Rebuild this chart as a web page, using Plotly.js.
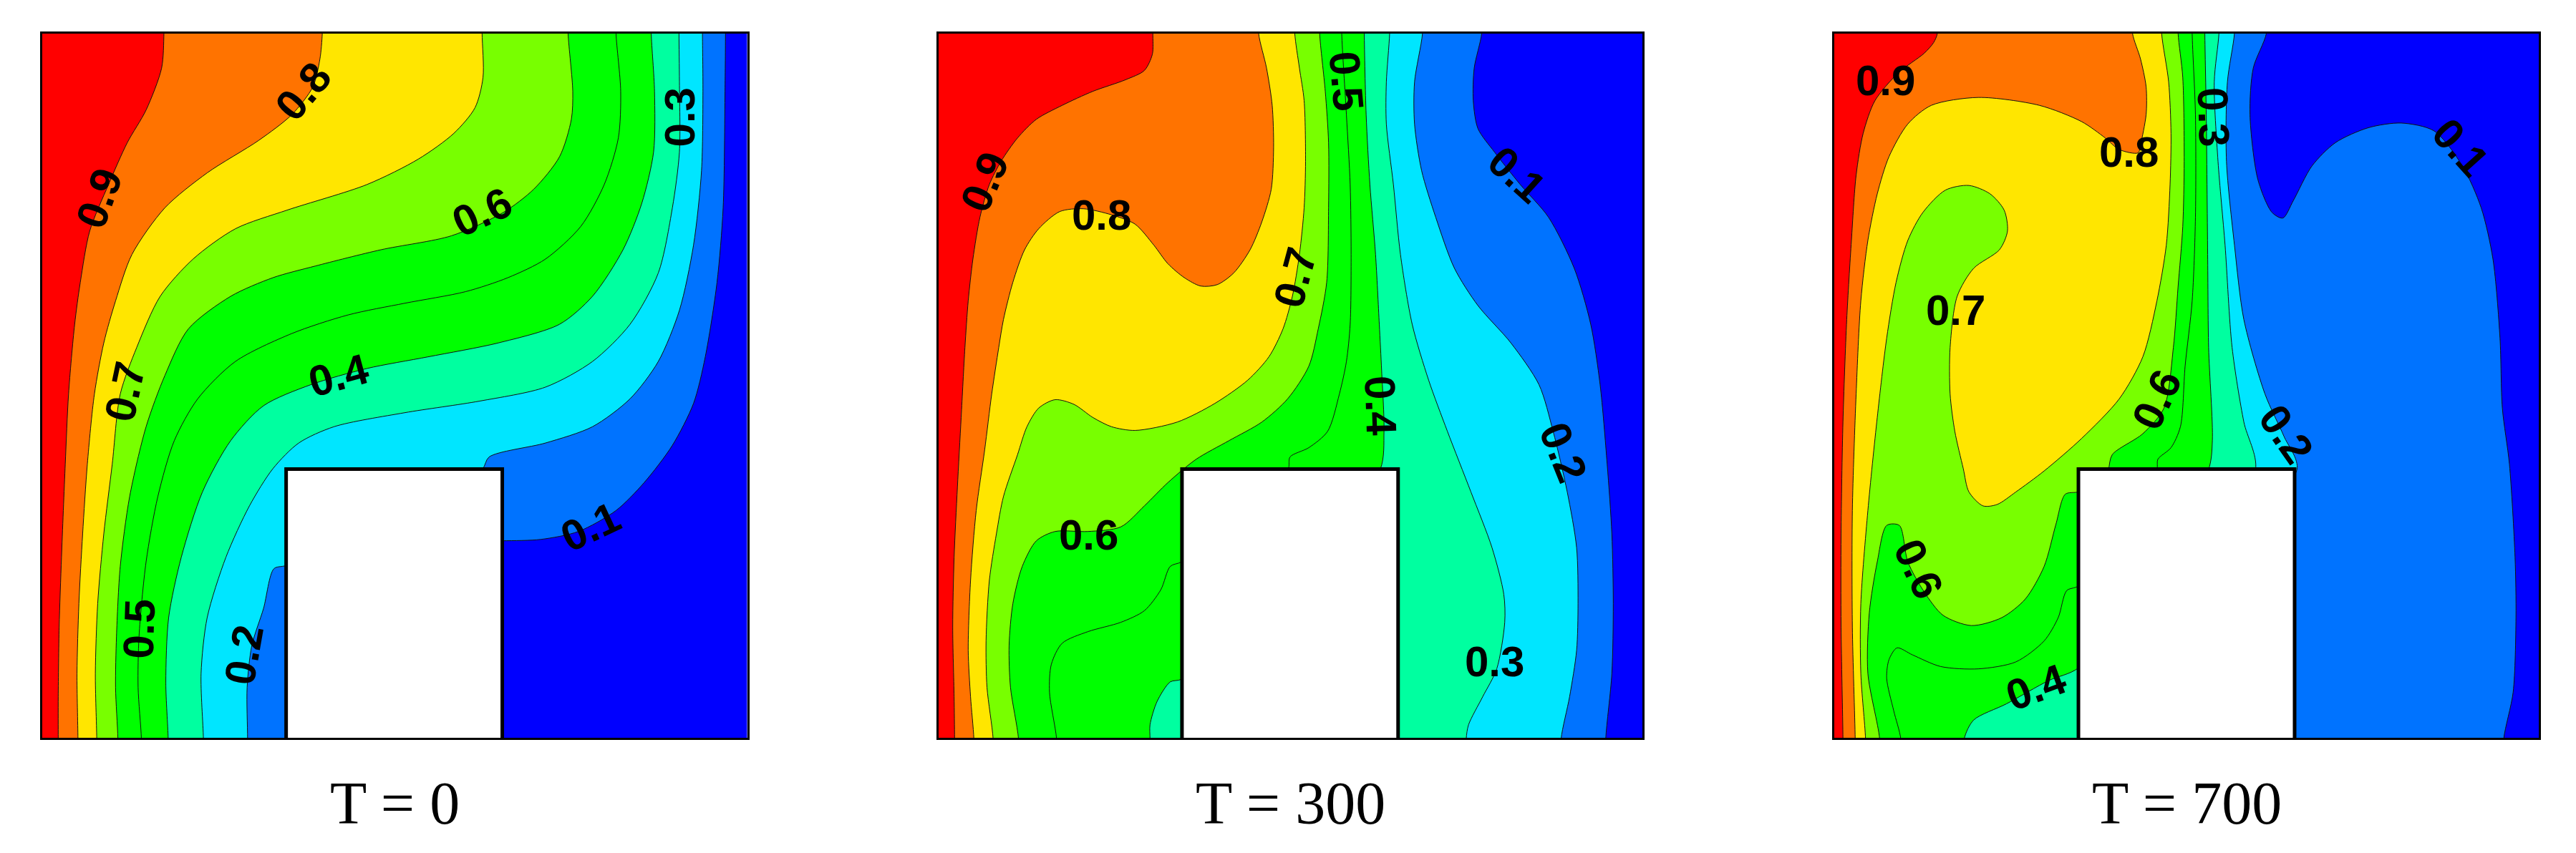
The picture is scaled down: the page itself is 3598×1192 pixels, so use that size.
<!DOCTYPE html>
<html>
<head>
<meta charset="utf-8">
<title>Contours at T = 0, 300, 700</title>
<script src="https://cdn.plot.ly/plotly-3.0.1.min.js"></script>
<style>html,body{margin:0;padding:0;background:#fff}</style>
</head>
<body>
<div id="plot" style="width:3598px;height:1192px"></div>
<script>
// isolines, one x and one y array per level and panel
// (reading grid: y grows downward, the frame spans about 1500 units each way)

const levels = [0.1, 0.2, 0.3, 0.4, 0.5, 0.6, 0.7, 0.8, 0.9];
const levelColors = ['#0073ff', '#00e6ff', '#00ffa0', '#00ff00', '#00ff00', '#78ff00', '#ffe600', '#ff7300', '#ff0000'];
const panelTitles = ['T = 0', 'T = 300', 'T = 700'];

// ------------------ T = 0 ------------------
const a1x = [1483,1482,1478,1465,1440,1415,1370,1310,1250,1170,1090,1008,900];
const a1y = [25,150,400,560,720,820,910,990,1050,1095,1112,1115,1115];
const a2x = [1434,1435,1432,1415,1385,1340,1280,1200,1100,980,965,800,548,522,500,475,465,466];
const a2y = [25,150,320,480,620,730,810,870,905,935,962,1060,1168,1175,1260,1340,1430,1540];
const a3x = [1384,1385,1385,1370,1340,1280,1200,1100,960,800,650,575,520,470,420,380,367,372];
const a3y = [25,130,280,400,540,650,730,785,815,840,870,905,960,1040,1150,1280,1400,1540];
const a4x = [1325,1332,1330,1305,1265,1200,1130,1000,850,720,600,500,430,370,325,298,292,297];
const a4y = [25,150,280,390,490,590,650,690,720,745,780,825,900,1010,1150,1280,1420,1540];
const a5x = [1250,1260,1255,1225,1175,1100,1020,930,800,680,560,440,360,310,275,250,235,233,240];
const a5y = [25,150,250,350,440,510,550,580,605,630,670,730,810,900,1020,1160,1320,1430,1540];
const a6x = [1148,1158,1155,1130,1075,1010,900,750,610,520,430,340,290,250,215,195,187,185,190];
const a6y = [25,150,210,290,360,410,460,490,525,550,590,660,760,870,1020,1170,1320,1430,1540];
const a7x = [965,967,950,905,830,720,550,440,350,280,230,195,178,160,147,142,145];
const a7y = [25,120,185,240,295,350,405,445,510,590,700,800,950,1100,1250,1400,1540];
const a8x = [625,620,605,560,490,380,290,220,185,160,140,125,115,107,103,105];
const a8y = [25,80,140,200,255,325,400,500,600,690,800,950,1100,1250,1400,1540];
const a9x = [288,283,250,210,170,130,110,98,85,78,70,65,63,63];
const a9y = [25,100,190,260,350,450,560,650,800,950,1150,1300,1450,1540];

// ------------------ T = 300 ------------------
const b1x = [1188,1172,1170,1180,1215,1270,1330,1385,1420,1440,1455,1465,1468,1465,1452];
const b1y = [25,100,170,230,280,350,420,530,650,780,950,1100,1250,1400,1540];
const b2x = [1062,1045,1045,1060,1090,1130,1180,1250,1310,1340,1370,1390,1393,1390,1375,1357];
const b2y = [25,130,220,320,420,530,610,690,780,880,1010,1130,1250,1350,1450,1540];
const b3x = [992,985,985,1000,1015,1040,1075,1115,1165,1210,1235,1237,1220,1190,1160,1155];
const b3y = [25,130,220,350,500,650,770,880,1010,1130,1230,1290,1390,1450,1510,1540];
const b4x = [938,942,950,962,970,975,980,972,800,550,525,497,482,482];
const b4y = [25,200,350,500,650,750,880,962,1200,1412,1418,1460,1510,1540];
const b5x = [890,900,908,910,908,900,885,860,820,780,776,700,550,525,505,470,420,350,295,272,268,283];
const b5y = [25,200,350,500,650,730,800,880,915,935,962,1050,1160,1170,1220,1265,1290,1310,1335,1380,1440,1540];
const b6x = [843,855,862,862,858,840,820,775,720,650,580,520,470,420,350,280,240,210,190,182,185,202];
const b6y = [25,150,260,400,560,660,740,810,860,900,940,990,1040,1085,1095,1095,1115,1170,1250,1340,1430,1540];
const b7x = [790,800,810,813,810,800,785,765,735,690,620,540,450,400,360,320,280,245,220,200,170,155,140,133,135,148];
const b7y = [25,100,170,300,400,500,590,660,720,770,820,860,878,870,850,822,812,830,870,930,1020,1100,1200,1330,1430,1540];
const b8x = [713,730,742,745,740,720,695,660,625,590,555,520,490,450,400,340,290,245,215,190,170,160,145,130,112,100,95,100,107];
const b8y = [25,100,180,270,360,430,490,540,565,568,550,520,480,435,415,402,408,445,490,560,640,700,800,920,1050,1200,1350,1450,1540];
const b9x = [488,487,470,430,360,295,240,200,165,140,120,105,95,88,80,72,65,62,65,66];
const b9y = [25,70,105,125,150,180,210,250,300,350,420,510,600,700,850,1000,1150,1300,1450,1540];

// ------------------ T = 700 ------------------
const c1x = [953,925,918,935,965,988,1010,1050,1100,1170,1240,1310,1370,1410,1435,1450,1455,1470,1482,1484,1478,1458];
const c1y = [25,100,200,340,410,422,385,310,260,228,218,235,310,400,510,680,830,950,1150,1280,1440,1540];
const c2x = [885,870,868,885,905,950,990,1018,800];
const c2y = [25,130,300,480,640,800,890,962,1200];
const c3x = [852,842,850,865,880,905,930,800];
const c3y = [25,130,300,480,700,860,962,1200];
const c4x = [822,825,828,830,838,830,700,553,490,400,330,310];
const c4y = [25,200,500,700,900,962,1200,1388,1415,1465,1500,1540];
const c5x = [795,802,802,795,780,770,750,722,720,650,553,528,510,480,420,340,260,200,167,150,145,160,175];
const c5y = [25,200,420,600,740,870,915,940,962,1100,1212,1222,1280,1330,1375,1390,1385,1360,1345,1370,1410,1480,1540];
const c6x = [765,775,778,775,765,755,735,690,625,617,610,553,525,505,480,440,390,325,265,225,190,172,145,125,108,105,130];
const c6y = [25,120,300,440,570,700,830,885,930,962,985,1010,1015,1080,1170,1240,1280,1297,1275,1225,1160,1082,1082,1160,1270,1400,1540];
const c7x = [730,745,750,748,740,720,690,640,560,480,420,380,350,320,308,290,280,280,295,330,385,402,395,365,320,270,222,190,165,145,125,105,90,90,100];
const c7y = [25,130,240,350,480,600,720,810,895,965,1010,1037,1040,1010,960,880,800,700,590,530,490,450,405,370,352,362,410,470,560,680,850,1050,1250,1400,1540];
const c8x = [668,685,697,697,685,680,640,610,560,470,340,240,190,150,125,105,90,80,72,72,78];
const c8y = [25,80,140,200,265,282,275,250,215,180,163,180,220,290,370,470,600,800,1050,1300,1540];
const c9x = [253,245,225,170,120,95,80,70,60,52,48,48,52];
const c9y = [25,45,68,110,170,240,330,470,640,860,1100,1300,1540];

// contour labels: text, x, y, angle
const a_labelText = ['0.9','0.8','0.7','0.6','0.5','0.4','0.3','0.2','0.1'];
const a_labelX = [150,585,205,965,235,660,1385,458,1195];
const a_labelY = [380,150,795,410,1305,760,205,1360,1085];
const a_labelAngle = [-70,-50,-78,-25,-88,-15,-90,-80,-25];

const b_labelText = ['0.9','0.8','0.7','0.5','0.4','0.6','0.3','0.2','0.1'];
const b_labelX = [130,378,790,900,972,352,1215,1362,1262];
const b_labelY = [345,415,550,128,825,1102,1375,925,328];
const b_labelAngle = [-67,0,-75,85,88,0,0,68,42];

const c_labelText = ['0.9','0.8','0.7','0.3','0.1','0.6','0.2','0.6','0.4'];
const c_labelX = [143,660,292,840,1365,720,995,212,463];
const c_labelY = [127,280,620,205,270,812,885,1175,1430];
const c_labelAngle = [0,0,0,88,48,-65,55,65,-20];

// obstacle in each panel: left, right, top (runs down to the bottom edge)
const holeLeft = [548,550,553];
const holeRight = [1008,1010,1013];
const holeTop = 961;

// ------------------ Plot helpers ------------------
const W = 3598, H = 1192;
const frameX = [[59,1043.5],[1311,2294],[2562,3546]];
const frameY = [47,1031];
const rangeX = [[29,1529],[32,1530],[33.5,1532.5]];
const rangeY = [1538,26];

// close an isoline around the left side, outside the frame, so it fills everything above the level
function region(xs, ys, color, axisId, lvl) {
  const x = [xs[0]].concat(xs, [xs[xs.length-1], -300, -300]);
  const y = [-40].concat(ys, [1600, 1600, -40]);
  return {
    type: 'scatter', mode: 'lines', x: x, y: y,
    xaxis: 'x' + axisId, yaxis: 'y' + axisId,
    name: String(lvl), fill: 'toself', fillcolor: color,
    line: { color: '#111111', width: 1, shape: 'spline', smoothing: 0.8 },
    hoverinfo: 'skip', showlegend: false
  };
}

const panelLines = [
  [[a1x,a1y],[a2x,a2y],[a3x,a3y],[a4x,a4y],[a5x,a5y],[a6x,a6y],[a7x,a7y],[a8x,a8y],[a9x,a9y]],
  [[b1x,b1y],[b2x,b2y],[b3x,b3y],[b4x,b4y],[b5x,b5y],[b6x,b6y],[b7x,b7y],[b8x,b8y],[b9x,b9y]],
  [[c1x,c1y],[c2x,c2y],[c3x,c3y],[c4x,c4y],[c5x,c5y],[c6x,c6y],[c7x,c7y],[c8x,c8y],[c9x,c9y]]
];
const panelLabels = [
  [a_labelText,a_labelX,a_labelY,a_labelAngle],
  [b_labelText,b_labelX,b_labelY,b_labelAngle],
  [c_labelText,c_labelX,c_labelY,c_labelAngle]
];

const data = [];
const annotations = [];
const shapes = [];
const layout = {
  width: W, height: H,
  margin: { l: 0, r: 0, t: 0, b: 0 },
  paper_bgcolor: '#ffffff',
  plot_bgcolor: '#0000ff',
  showlegend: false
};

for (let p = 0; p < 3; p++) {
  const id = p + 1;
  panelLines[p].forEach((l, i) => data.push(region(l[0], l[1], levelColors[i], id, levels[i])));

  const axisBase = { showgrid: false, zeroline: false, showticklabels: false, ticks: '',
    showline: true, linecolor: '#000000', linewidth: 3, mirror: true, fixedrange: true };
  layout['xaxis' + id] = Object.assign({}, axisBase, {
    domain: [frameX[p][0] / W, frameX[p][1] / W], range: rangeX[p], anchor: 'y' + id
  });
  layout['yaxis' + id] = Object.assign({}, axisBase, {
    domain: [1 - frameY[1] / H, 1 - frameY[0] / H], range: rangeY, anchor: 'x' + id
  });

  shapes.push({
    type: 'rect', layer: 'above', xref: 'x' + id, yref: 'y' + id,
    x0: holeLeft[p], x1: holeRight[p], y0: holeTop, y1: 1545,
    fillcolor: '#ffffff', line: { color: '#000000', width: 5 }
  });

  const lab = panelLabels[p];
  lab[0].forEach((t, i) => annotations.push({
    xref: 'x' + id, yref: 'y' + id, x: lab[1][i], y: lab[2][i],
    text: '<b>' + t + '</b>', textangle: lab[3][i], showarrow: false,
    xanchor: 'center', yanchor: 'middle',
    font: { family: 'Liberation Sans, Arial, sans-serif', size: 60, color: '#000000' }
  }));

  annotations.push({
    xref: 'paper', yref: 'paper',
    x: (frameX[p][0] + frameX[p][1]) / 2 / W, y: 1 - 1122 / H,
    xanchor: 'center', yanchor: 'middle',
    text: panelTitles[p], showarrow: false,
    font: { family: 'Liberation Serif, Times New Roman, serif', size: 84, color: '#000000' }
  });
}

layout.shapes = shapes;
layout.annotations = annotations;

Plotly.newPlot('plot', data, layout, { displayModeBar: false, staticPlot: true });
</script>
</body>
</html>
